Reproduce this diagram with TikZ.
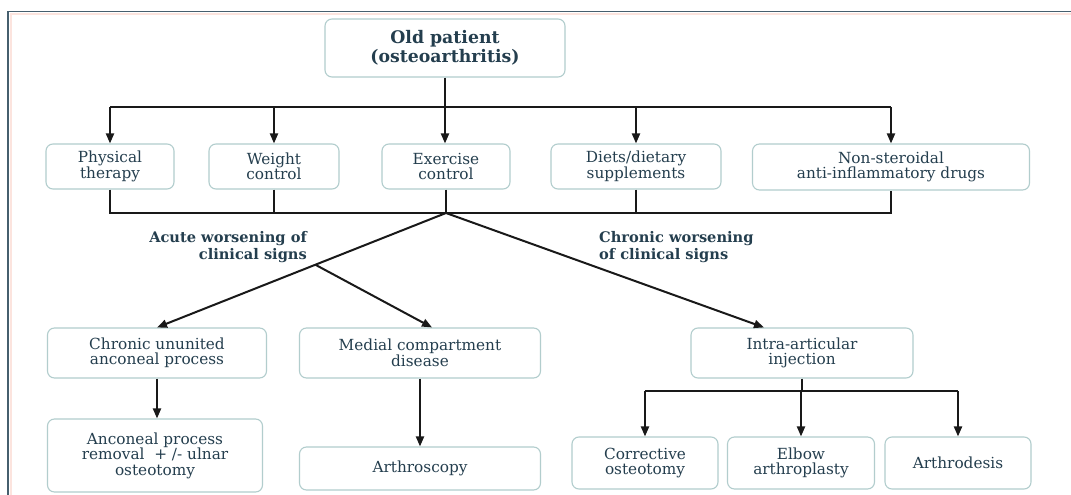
\documentclass[tikz,border=0pt]{standalone}
\usepackage{fontspec}
\setmainfont{DejaVu Serif}
\usetikzlibrary{arrows.meta,calc}
\definecolor{txt}{RGB}{36,62,78}
\definecolor{boxc}{RGB}{178,205,205}
\definecolor{framec}{RGB}{70,95,110}
\definecolor{linec}{RGB}{25,25,25}
\definecolor{glow}{RGB}{252,228,222}
\begin{document}
\begin{tikzpicture}[x=1pt,y=-1pt,
  box/.style={draw=boxc, line width=1.1pt, rounded corners=7pt, fill=white,
    align=center, text=txt, inner sep=0pt,
    font=\fontsize{15.3}{15.5}\selectfont},
  title/.style={box, font=\bfseries\fontsize{17.3}{19}\selectfont},
  lab/.style={text=txt, inner sep=0pt, font=\bfseries\fontsize{14.6}{16.5}\selectfont},
  conn/.style={draw=linec, line width=2pt},
  arr/.style={conn, -{Triangle[length=10pt,width=8pt]}}
]
\useasboundingbox (0,0) rectangle (1071,495);
\fill[white] (0,0) rectangle (1071,495);
% frame
\draw[glow, line width=2pt] (10.5,495) -- (10.5,14) -- (1071,14);
\draw[framec, line width=1.5pt] (8,495) -- (8,11.5) -- (1071,11.5);

% nodes
\node[title, minimum width=240, minimum height=58] (old) at (445,48) {Old patient\\(osteoarthritis)};

\node[box, minimum width=128, minimum height=45] (pt) at (110,166.5) {Physical\\therapy};
\node[box, minimum width=130, minimum height=45] (wc) at (274,166.5) {Weight\\control};
\node[box, minimum width=128, minimum height=45] (ec) at (446,166.5) {Exercise\\control};
\node[box, minimum width=170, minimum height=45] (diet) at (636,166.5) {Diets/dietary\\supplements};
\node[box, minimum width=277, minimum height=46] (nsaid) at (891,167) {Non-steroidal\\anti-inflammatory drugs};

\node[lab, anchor=east, align=right] (acute) at (307,247) {Acute worsening of\\clinical signs};
\node[lab, anchor=west, align=left] (chronic) at (599,247) {Chronic worsening\\of clinical signs};

\node[box, minimum width=219, minimum height=50] (cua) at (157,353) {Chronic ununited\\anconeal process};
\node[box, minimum width=241, minimum height=50] (mcd) at (420,353) {Medial compartment\\disease};
\node[box, minimum width=222, minimum height=50] (iai) at (802,353) {Intra-articular\\injection};

\node[box, minimum width=215, minimum height=73] (anc) at (155,455.5) {Anconeal process\\removal \ + /- ulnar\\osteotomy};
\node[box, minimum width=241, minimum height=43] (arth) at (420,468.5) {Arthroscopy};
\node[box, minimum width=146, minimum height=52] (co) at (645,463) {Corrective\\osteotomy};
\node[box, minimum width=147, minimum height=52] (ea) at (801,463) {Elbow\\arthroplasty};
\node[box, minimum width=146, minimum height=52] (ad) at (958,463) {Arthrodesis};

% top distribution
\coordinate (bus1) at (445,107);
\coordinate (bus2) at (445,213);
\draw[conn] (pt.north |- bus1) -- (nsaid.north |- bus1);
\draw[arr] (old.south) -- (old.south |- ec.north);
\foreach \n in {pt,wc,diet,nsaid} \draw[arr] (\n.north |- bus1) -- (\n.north);

% lower collection
\draw[conn] (pt.south) -- (pt.south |- bus2) -- (nsaid.south |- bus2) -- (nsaid.south);
\foreach \n in {wc,ec,diet} \draw[conn] (\n.south) -- (\n.south |- bus2);

% diagonals
\coordinate (J) at (ec.south |- bus2);
\draw[arr] (J) -- (cua.north);
\coordinate (br) at ($(J)!0.452!(cua.north)$);
\coordinate (mcdin) at ($(mcd.north)+(12,0)$);
\draw[arr] (br) -- (mcdin);
\coordinate (iaiin) at ($(iai.north)+(-38,0)$);
\draw[arr] (J) -- (iaiin);

% lower arrows
\draw[arr] (cua.south) -- (cua.south |- anc.north);
\draw[arr] (mcd.south) -- (mcd.south |- arth.north);
\coordinate (bus3) at (802,391);
\draw[conn] (iai.south) -- (iai.south |- bus3);
\draw[conn] (co.north |- bus3) -- (ad.north |- bus3);
\foreach \n in {co,ea,ad} \draw[arr] (\n.north |- bus3) -- (\n.north);
\end{tikzpicture}
\end{document}
